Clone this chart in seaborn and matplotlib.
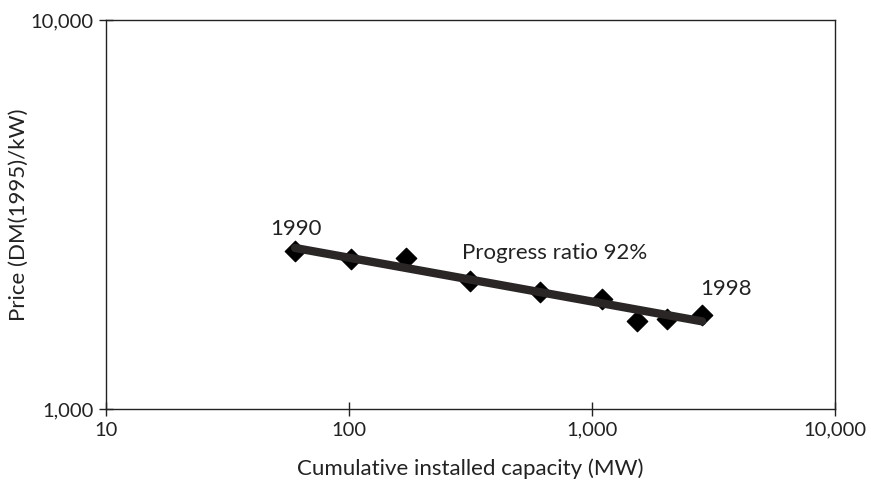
import matplotlib
matplotlib.use("Agg")
import matplotlib.pyplot as plt
import matplotlib.ticker as mticker
import seaborn as sns
import pandas as pd

sns.set_theme(style="ticks")
plt.rcParams['font.family'] = ['Lato', 'DejaVu Sans']

# cumulative capacity (MW) and price (DM(1995)/kW), 1990-1998
capacity = [60, 102, 172, 315, 611, 1100, 1530, 2040, 2840]
price = [2546, 2432, 2443, 2133, 2000, 1918, 1683, 1702, 1744]
years = [1990, 1991, 1992, 1993, 1994, 1995, 1996, 1997, 1998]

# experience curve (progress ratio 92%)
fit_capacity = [60, 2840]
fit_price = [2594, 1680]

df = pd.DataFrame({"capacity": capacity, "price": price, "year": years})
fit = pd.DataFrame({"capacity": fit_capacity, "price": fit_price})

fig = plt.figure(figsize=(8.71, 4.86), dpi=100)
ax = fig.add_axes([0.1217, 0.1584, 0.8370, 0.8004])

sns.scatterplot(data=df, x="capacity", y="price", marker="D", s=110,
                color="black", edgecolor="black", ax=ax, zorder=2)
sns.lineplot(data=fit, x="capacity", y="price", color="#2b2626",
             linewidth=6, ax=ax, zorder=3)

ax.set_xscale("log")
ax.set_yscale("log")
ax.set_xlim(10, 10000)
ax.set_ylim(1000, 10000)
ax.xaxis.set_major_locator(mticker.LogLocator(base=10))
ax.yaxis.set_major_locator(mticker.LogLocator(base=10))
ax.xaxis.set_minor_locator(mticker.NullLocator())
ax.yaxis.set_minor_locator(mticker.NullLocator())
fmt = mticker.FuncFormatter(lambda v, p: f"{v:,.0f}")
ax.xaxis.set_major_formatter(fmt)
ax.yaxis.set_major_formatter(fmt)

ax.tick_params(axis="both", direction="inout", length=10, width=1,
               color="#222222", labelsize=14.5, labelcolor="#222222", pad=4)
for s in ax.spines.values():
    s.set_color("#222222")
    s.set_linewidth(1)

ax.set_xlabel("Cumulative installed capacity (MW)", fontsize=16,
              color="#222222", labelpad=14)
ax.set_ylabel("Price (DM(1995)/kW)", fontsize=16, color="#222222",
              labelpad=1)

ax.text(60.5, 2904, "1990", fontsize=16, color="#222222",
        ha="center", va="center")
ax.text(292, 2518, "Progress ratio 92%", fontsize=16, color="#222222",
        ha="left", va="center")
ax.text(2800, 2040, "1998", fontsize=16, color="#222222",
        ha="left", va="center")

fig.savefig("out.png", dpi=100)
